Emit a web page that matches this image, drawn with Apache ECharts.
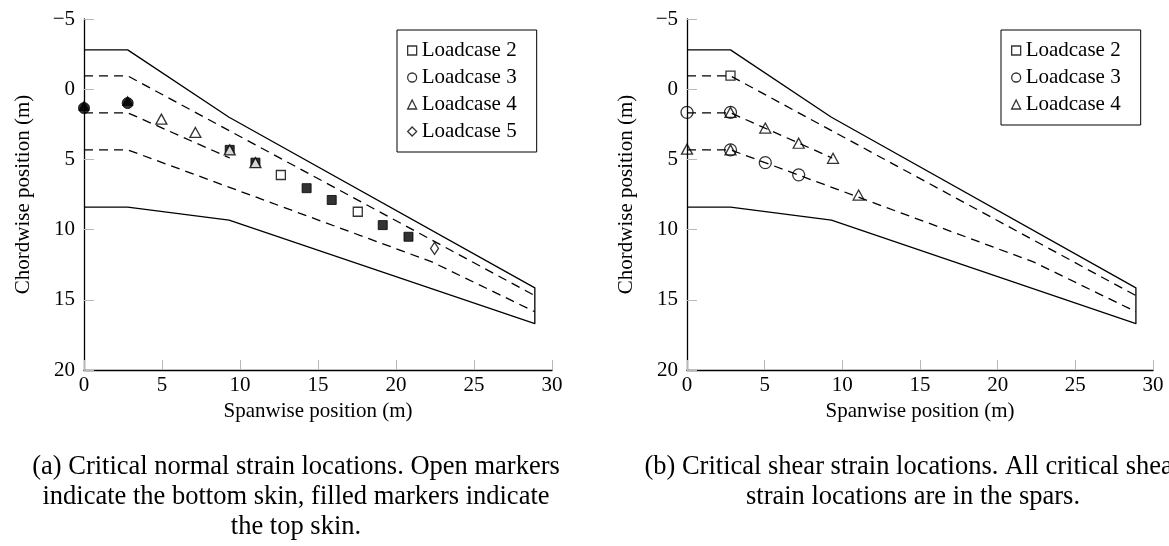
<!DOCTYPE html>
<html><head><meta charset="utf-8">
<script src="https://cdn.jsdelivr.net/npm/echarts@6/dist/echarts.min.js"></script>
<style>html,body{margin:0;padding:0;background:#fff}#c{width:1169px;height:546px}</style>
</head><body><div id="c"></div>
<script>
const xTicks = [0, 5, 10, 15, 20, 25, 30];
const yTicks = [-5, 0, 5, 10, 15, 20];
// wing outline and spars (shared by both panels)
const outlineX = [0, 2.8, 9.3, 28.9, 28.9, 9.3, 2.8, 0];
const outlineY = [-2.8, -2.8, 2.0, 14.15, 16.7, 9.32, 8.4, 8.4];
const sparAX = [0, 2.8, 28.9];       const sparAY = [-0.95, -0.95, 14.7];
const sparBX = [0, 2.8, 9.35];       const sparBY = [1.68, 1.68, 4.9];
const sparCX = [0, 2.8, 22.3, 28.9]; const sparCY = [4.32, 4.32, 12.3, 15.85];
// panel (a) normal strain
const aLC2openX = [12.62, 17.55];  const aLC2openY = [6.11, 8.73];
const aLC2fillX = [9.34, 10.99, 14.27, 15.88, 19.15, 20.8];
const aLC2fillY = [4.32, 5.23, 7.05, 7.89, 9.68, 10.51];
const aLC3fillX = [0, 2.8];        const aLC3fillY = [1.34, 0.99];
const aLC4openX = [4.96, 7.14, 9.34, 10.99]; const aLC4openY = [2.13, 3.08, 4.32, 5.23];
const aLC4fillX = [0, 2.8];        const aLC4fillY = [1.2, 0.85];
const aLC5openX = [22.47];         const aLC5openY = [11.34];
// panel (b) shear strain
const bLC2X = [2.8];  const bLC2Y = [-0.96];
const bLC3X = [0, 2.8, 2.8, 5.04, 7.19]; const bLC3Y = [1.65, 1.65, 4.32, 5.23, 6.1];
const bLC4X = [2.8, 5.04, 7.19, 9.4, 0, 2.8, 11.05]; const bLC4Y = [1.65, 2.77, 3.85, 4.92, 4.27, 4.32, 7.54];
const legendA = ['Loadcase 2', 'Loadcase 3', 'Loadcase 4', 'Loadcase 5'];
const legendB = ['Loadcase 2', 'Loadcase 3', 'Loadcase 4'];
const captionA = '(a) Critical normal strain locations. Open markers\nindicate the bottom skin, filled markers indicate\nthe top skin.';
const captionB = '(b) Critical shear strain locations. All critical shear\nstrain locations are in the spars.';

const zip = (xs, ys) => xs.map((x, i) => [x, ys[i]]);
const FONT = '"Liberation Serif", "Times New Roman", serif';
const open = {color: 'rgba(255,255,255,0)', borderColor: '#000', borderWidth: 1.3};
const openWhite = {color: '#fff', borderColor: '#000', borderWidth: 1.3};
const filled = {color: '#000', borderColor: '#000', borderWidth: 1};

function xAx(g) {
  return {gridIndex: g, type: 'value', min: xTicks[0], max: xTicks[xTicks.length - 1], interval: 5,
    name: 'Spanwise position (m)', nameLocation: 'middle', nameGap: 31,
    nameTextStyle: {fontFamily: FONT, fontSize: 21, color: '#000'},
    axisLine: {onZero: false, lineStyle: {color: '#000', width: 1.3}},
    axisTick: {inside: true, length: 10, lineStyle: {color: '#b8b8b8', width: 1}},
    axisLabel: {fontFamily: FONT, fontSize: 21, color: '#000', margin: 5},
    splitLine: {show: false}};
}
function yAx(g) {
  return {gridIndex: g, type: 'value', inverse: true, min: yTicks[0], max: yTicks[yTicks.length - 1], interval: 5,
    name: 'Chordwise position (m)', nameLocation: 'middle', nameGap: 50, nameRotate: 90,
    nameTextStyle: {fontFamily: FONT, fontSize: 21, color: '#000'},
    axisLine: {onZero: false, lineStyle: {color: '#000', width: 1.3}},
    axisTick: {inside: true, length: 10, lineStyle: {color: '#b8b8b8', width: 1}},
    axisLabel: {fontFamily: FONT, fontSize: 21, color: '#000', margin: 9,
      formatter: v => v < 0 ? '\u2212' + Math.abs(v) : String(v)},
    splitLine: {show: false}};
}
function lines(g) {
  const base = {type: 'line', xAxisIndex: g, yAxisIndex: g, showSymbol: false, symbol: 'none', silent: true, z: 1};
  return [
    Object.assign({}, base, {name: 'outline' + g, data: zip(outlineX, outlineY), lineStyle: {color: '#000', width: 1.3}}),
    Object.assign({}, base, {name: 'sparA' + g, data: zip(sparAX, sparAY), lineStyle: {color: '#000', width: 1.3, type: [9, 6]}}),
    Object.assign({}, base, {name: 'sparB' + g, data: zip(sparBX, sparBY), lineStyle: {color: '#000', width: 1.3, type: [9, 6]}}),
    Object.assign({}, base, {name: 'sparC' + g, data: zip(sparCX, sparCY), lineStyle: {color: '#000', width: 1.3, type: [9, 6]}})
  ];
}
function sc(g, name, xs, ys, symbol, size, style) {
  return {type: 'scatter', name, xAxisIndex: g, yAxisIndex: g, data: zip(xs, ys), symbol, symbolSize: size,
    itemStyle: style, clip: false, z: 3, emphasis: {disabled: true}};
}
const legendCommon = {orient: 'vertical', itemWidth: 9, itemHeight: 9, itemGap: 6, itemTextGap: 5,
  borderColor: '#000', borderWidth: 1, borderRadius: 0, backgroundColor: '#fff',
  textStyle: {fontFamily: FONT, fontSize: 21, color: '#000', lineHeight: 21},
  itemStyle: {color: '#fff', borderColor: '#000', borderWidth: 1.3}, selectedMode: false};

const chart = echarts.init(document.getElementById('c'), null, {renderer: 'canvas'});
chart.setOption({
  animation: false,
  backgroundColor: '#fff',
  grid: [
    {left: 84, top: 19, width: 468, height: 351},
    {left: 687, top: 19, width: 466, height: 351}
  ],
  xAxis: [xAx(0), xAx(1)],
  yAxis: [yAx(0), yAx(1)],
  legend: [
    Object.assign({}, legendCommon, {left: 397, top: 30, padding: [10, 20, 10, 10], data: legendA}),
    Object.assign({}, legendCommon, {left: 1001, top: 30, padding: [10, 20, 10, 10], data: legendB})
  ],
  series: [
    ...lines(0),
    sc(0, 'Loadcase 2', aLC2openX, aLC2openY, 'rect', 9, open),
    sc(0, 'Loadcase 2 top', aLC2fillX, aLC2fillY, 'rect', 9, filled),
    sc(0, 'Loadcase 3 top', aLC3fillX, aLC3fillY, 'circle', 11, filled),
    sc(0, 'Loadcase 4', aLC4openX, aLC4openY, 'triangle', [11, 10], openWhite),
    sc(0, 'Loadcase 4 top', aLC4fillX, aLC4fillY, 'triangle', [10, 9], filled),
    sc(0, 'Loadcase 5', aLC5openX, aLC5openY, 'diamond', [8, 12], open),
    ...lines(1),
    sc(1, 'Loadcase 2', bLC2X, bLC2Y, 'rect', 9, open),
    sc(1, 'Loadcase 3', bLC3X, bLC3Y, 'circle', 12, open),
    sc(1, 'Loadcase 4', bLC4X, bLC4Y, 'triangle', [11, 10], open)
  ],
  graphic: [
    {type: 'text', x: 296, y: 452, silent: true,
      style: {text: captionA, align: 'center', verticalAlign: 'top', fontFamily: FONT, fontSize: 26.5, lineHeight: 30, fill: '#000'}},
    {type: 'text', x: 913, y: 452, silent: true,
      style: {text: captionB, align: 'center', verticalAlign: 'top', fontFamily: FONT, fontSize: 26.5, lineHeight: 30, fill: '#000'}}
  ]
});
</script></body></html>
